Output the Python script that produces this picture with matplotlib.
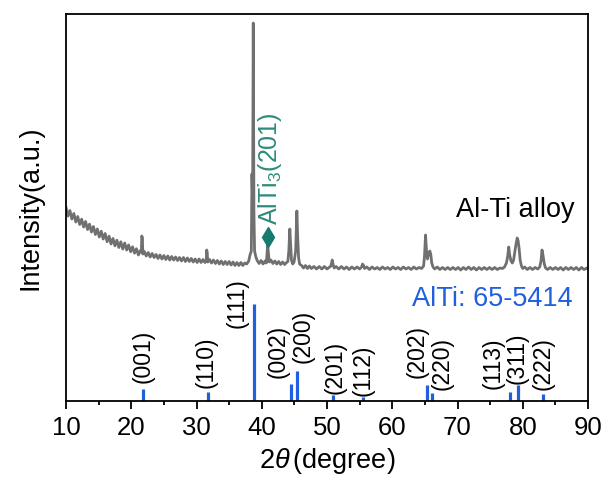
import matplotlib
matplotlib.use("Agg")
import matplotlib.pyplot as plt

plt.rcParams['font.family'] = ['Liberation Sans', 'DejaVu Sans']
plt.rcParams['mathtext.fontset'] = 'custom'
plt.rcParams['mathtext.rm'] = 'Liberation Sans'
plt.rcParams['mathtext.it'] = 'Liberation Sans:italic'

# measured pattern of the Al-Ti alloy (2theta in degree, intensity in a.u.)
scan_2theta = [
    10.0, 10.3, 10.6, 10.9, 11.2, 11.5, 11.8, 12.1, 12.4, 12.7, 13.0, 13.3,
    13.6, 13.9, 14.2, 14.5, 14.8, 15.1, 15.4, 15.7, 16.0, 16.3, 16.6, 16.9,
    17.2, 17.5, 17.8, 18.1, 18.4, 18.7, 19.0, 19.3, 19.6, 19.9, 20.2, 20.5,
    20.8, 21.1, 21.4, 21.55, 21.62, 21.7, 21.78,
    22.0, 22.3, 22.6, 22.9, 23.2, 23.5, 23.8, 24.1, 24.4, 24.7, 25.0, 25.3,
    25.6, 25.9, 26.2, 26.5, 26.8, 27.1, 27.4, 27.7, 28.0, 28.3, 28.6, 28.9,
    29.2, 29.5, 29.8, 30.1, 30.4, 30.7, 31.0, 31.3, 31.5, 31.56, 31.64, 31.72,
    32.0, 32.3, 32.6, 32.9, 33.2, 33.5, 33.8, 34.1, 34.4, 34.7, 35.0, 35.3,
    35.6, 35.9, 36.2, 36.5, 36.8, 37.1, 37.4, 37.7, 38.0, 38.2,
    38.4, 38.5, 38.6, 38.7, 38.8, 38.9, 39.1, 39.3, 39.6, 39.9, 40.2, 40.5,
    40.7, 40.8, 40.9, 41.0, 41.15,
    41.4, 41.7, 42.0, 42.3, 42.6, 42.9, 43.2, 43.5, 43.8, 44.0,
    44.15, 44.3, 44.4, 44.55, 44.75, 44.95, 45.2, 45.38, 45.5, 45.65, 45.8,
    46.1, 46.4, 46.7, 47.0, 47.3, 47.6, 48.0, 48.4, 48.8, 49.2, 49.6, 50.0,
    50.4, 50.6, 50.7, 50.8, 50.95, 51.1,
    51.4, 51.8, 52.2, 52.6, 53.0, 53.4, 53.8, 54.2, 54.6, 55.0, 55.3,
    55.45, 55.6, 55.75,
    56.1, 56.5, 56.9, 57.3, 57.7, 58.1, 58.5, 58.9, 59.3, 59.7, 60.1, 60.5,
    60.9, 61.3, 61.7, 62.1, 62.5, 62.9, 63.3, 63.7, 64.1, 64.5, 64.8,
    64.95, 65.1, 65.25, 65.4, 65.55, 65.75, 65.9, 66.05, 66.25,
    66.5, 66.9, 67.3, 67.7, 68.1, 68.5, 68.9, 69.3, 69.7, 70.1, 70.5, 70.9,
    71.3, 71.7, 72.1, 72.5, 72.9, 73.3, 73.7, 74.1, 74.5, 74.9, 75.3, 75.7,
    76.1, 76.5, 76.9, 77.2, 77.5,
    77.7, 77.85, 78.0, 78.2, 78.4, 78.6, 78.8, 79.0, 79.15, 79.3, 79.45,
    79.6, 79.8, 80.0,
    80.3, 80.7, 81.1, 81.5, 81.9, 82.3, 82.6, 82.8, 82.95, 83.1, 83.3, 83.5,
    83.8, 84.2, 84.6, 85.0, 85.4, 85.8, 86.2, 86.6, 87.0, 87.4, 87.8, 88.2,
    88.6, 89.0, 89.4, 89.8, 90.0,
]
scan_counts = [
    193.5, 185, 190.5, 182, 187.5, 179, 184.5, 176.5, 181.8, 174, 179.5, 171.5,
    176.8, 169, 174.5, 166.5, 172, 164, 169.8, 162, 167.5, 159.3, 164.8, 157,
    162.5, 155.2, 160.8, 153.5, 159.2, 152, 158, 151, 156, 149.3, 154.2, 147.8,
    152.3, 146, 150.5, 149, 165, 163, 147,
    149.5, 145, 148.5, 144, 147.5, 143.5, 146.5, 142.5, 146, 142, 145.5, 141.5,
    145, 141, 144.5, 141, 144, 140.5, 143.5, 140, 143.5, 139.5, 143, 139.5,
    142.5, 139, 142, 138.5, 142, 138.5, 141.5, 138.5, 141, 151, 149, 139,
    141.5, 138, 141, 137.5, 140.5, 137, 140, 136.5, 139.5, 136.5, 139.5, 136,
    139, 135.5, 138.5, 135.5, 138.5, 135.5, 138, 137, 140, 146,
    150, 227, 200, 378, 190, 150, 144, 140.5, 137.5, 140.5, 137, 140,
    138, 146, 157, 150, 139,
    141, 137.5, 140, 137, 139.5, 136.5, 139, 136.5, 138.5, 139.5,
    150, 172, 160, 141, 137, 139, 150, 190, 165, 143, 137,
    135.5, 133, 135.5, 132.5, 135, 132.5, 134.5, 132, 134.5, 132, 134.5, 132,
    134, 135, 138, 141, 136, 133,
    134.5, 132, 134.5, 132, 134, 131.5, 134, 132, 134, 132, 134,
    137, 135.5, 132.5,
    134, 131.5, 134, 132, 133.5, 131.5, 134, 132, 133.5, 131.5, 134, 132,
    133.5, 131.5, 134, 132, 133.5, 131.5, 134, 132, 133.5, 132.5, 135,
    145, 166, 150, 142, 147, 150, 147, 138, 134,
    132, 134, 131.5, 133.5, 131.5, 133.5, 131.5, 133.5, 131.5, 133.5, 131, 133.5,
    131.5, 134, 131.5, 133.5, 131, 133.5, 131.5, 133.5, 131.5, 133.5, 131.5, 133.5,
    131.5, 133, 132.5, 134, 138,
    145, 154, 146, 140, 138, 141, 150, 158, 163, 160, 152,
    141, 135, 132.5,
    134, 131.5, 133.5, 131.5, 133.5, 132, 134, 140, 151, 146, 137, 133,
    131.5, 133.5, 131.5, 133.5, 131.5, 133.5, 131, 133.5, 131.5, 133.5, 131.5, 133.5,
    131, 133.5, 131.5, 133, 132,
]

# AlTi reference card 65-5414
ref_2theta = [21.86, 31.7, 38.78, 44.48, 45.34, 50.94, 55.58, 65.36, 66.05,
              78.05, 79.27, 83.07]
ref_intensity = [12, 9, 100, 18, 31, 6, 4, 16, 8, 9, 16, 7]
ref_hkl = ['(001)', '(110)', '(111)', '(002)', '(200)', '(201)', '(112)',
           '(202)', '(220)', '(113)', '(311)', '(222)']

# AlTi3 (201) reflection marked in the scan
alti3_2theta = 40.9

# where the hkl labels sit (2theta of centre, bottom height)
hkl_x = [21.77, 31.55, 36.3, 42.5, 46.3, 51.2, 55.6, 63.8, 67.6, 75.4, 79.1, 83.1]
hkl_y = [17.6, 13.4, 73, 23.4, 38.2, 7.2, 5.1, 23.4, 11.3, 12, 17, 11.3]

fig = plt.figure(figsize=(6.05, 4.79), dpi=100)
ax = fig.add_axes([66 / 605, 1 - 401 / 479, 522 / 605, 387 / 479])

ax.plot(scan_2theta, scan_counts, color='#707070', lw=2.0)

stick_scale = 0.97
ax.vlines(ref_2theta, 0, [v * stick_scale for v in ref_intensity],
          color='#1f5fe0', lw=2.3)
for x, y, s in zip(hkl_x, hkl_y, ref_hkl):
    ax.text(x, y, s, rotation=90, ha='center', va='bottom', fontsize=16.5)

ax.plot([alti3_2theta], [164], marker='d', ms=10, color='#177a70', ls='none')
ax.text(41.3, 176, r'AlTi$_3$(201)', rotation=90, ha='center', va='bottom',
        fontsize=18, color='#2e8b7a')

ax.text(88.0, 191, 'Al-Ti alloy', ha='right', va='center', fontsize=19.5)
ax.text(87.7, 102, 'AlTi: 65-5414', ha='right', va='center', fontsize=19.5,
        color='#1f5fe0')

ax.set_xlim(10, 90)
ax.set_ylim(0, 387)
ax.set_xticks(range(10, 91, 10))
ax.set_xticks(range(15, 90, 10), minor=True)
ax.set_yticks([])
ax.tick_params(axis='x', which='major', direction='out', length=6, width=1.3,
               labelsize=18.5, pad=5)
ax.tick_params(axis='x', which='minor', direction='out', length=3, width=1.3)
for sp in ax.spines.values():
    sp.set_linewidth(1.3)

ax.set_xlabel(r'2$\theta\,$(degree)', fontsize=19.5, labelpad=4)
ax.set_ylabel('Intensity(a.u.)', fontsize=19.5, labelpad=16)

fig.savefig('out.png', dpi=100)
